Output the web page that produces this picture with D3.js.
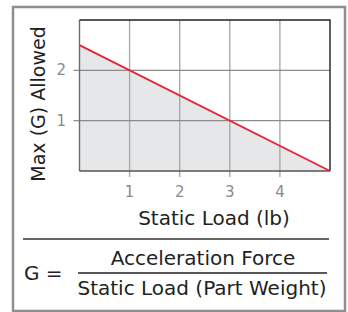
<!DOCTYPE html>
<html>
<head>
<meta charset="utf-8"/>
<script src="https://d3js.org/d3.v7.min.js"></script>
<style>
  body { margin: 0; background: #fff; }
  text { font-family: "DejaVu Sans", sans-serif; }
</style>
</head>
<body>
<div id="chart"></div>
<script>
// data
var loadLb = [0, 5];
var maxG = [2.5, 0];
var xTicks = [1, 2, 3, 4];
var yTicks = [1, 2];

var W = 348, H = 312;
var svg = d3.select("#chart").append("svg")
    .attr("width", W).attr("height", H);

// outer frame
svg.append("rect")
    .attr("x", 13).attr("y", 7).attr("width", 332).attr("height", 304)
    .attr("fill", "#fff").attr("stroke", "#8f8f8f").attr("stroke-width", 2.5);

var x = d3.scaleLinear().domain([0, 5]).range([79.5, 330]);
var y = d3.scaleLinear().domain([0, 3]).range([171, 20]);

var pts = loadLb.map(function(d, i) { return [d, maxG[i]]; });

// shaded area under the line
svg.append("path")
    .datum(pts)
    .attr("fill", "#e6e7e8")
    .attr("d", d3.area().x(function(d) { return x(d[0]); })
        .y0(y(0)).y1(function(d) { return y(d[1]); }));

// grid
svg.append("g").selectAll("line").data(xTicks).enter().append("line")
    .attr("x1", function(d) { return x(d); }).attr("x2", function(d) { return x(d); })
    .attr("y1", y(3)).attr("y2", y(0) + 6)
    .attr("stroke", "#ababab").attr("stroke-width", 1.4);

svg.append("g").selectAll("line").data(yTicks).enter().append("line")
    .attr("x1", x(0) - 6).attr("x2", x(5))
    .attr("y1", function(d) { return y(d); }).attr("y2", function(d) { return y(d); })
    .attr("stroke", "#8c8c8c").attr("stroke-width", 1.4);

// plot frame
svg.append("path")
    .attr("d", "M" + x(0) + "," + y(0) + "V" + y(3))
    .attr("stroke", "#6b6b6b").attr("stroke-width", 1.4).attr("fill", "none");
svg.append("path")
    .attr("d", "M" + x(0) + "," + y(0) + "H" + x(5))
    .attr("stroke", "#555").attr("stroke-width", 1.4).attr("fill", "none");
svg.append("path")
    .attr("d", "M" + x(0) + "," + y(3) + "H" + x(5) + "V" + y(0))
    .attr("stroke", "#231f20").attr("stroke-width", 1.4).attr("fill", "none");

// red line
svg.append("path")
    .datum(pts)
    .attr("fill", "none").attr("stroke", "#e8213a").attr("stroke-width", 1.8)
    .attr("d", d3.line().x(function(d) { return x(d[0]); }).y(function(d) { return y(d[1]); }));

// tick labels
svg.append("g").selectAll("text").data(xTicks).enter().append("text")
    .attr("x", function(d) { return x(d); }).attr("y", 197)
    .attr("text-anchor", "middle").attr("font-size", 15).attr("fill", "#8a8a8a")
    .text(function(d) { return d; });

svg.append("g").selectAll("text").data(yTicks).enter().append("text")
    .attr("x", 66).attr("y", function(d) { return y(d) + 5; })
    .attr("text-anchor", "end").attr("font-size", 15).attr("fill", "#8a8a8a")
    .text(function(d) { return d; });

// axis titles
svg.append("text")
    .attr("x", 214).attr("y", 225)
    .attr("text-anchor", "middle").attr("font-size", 20).attr("fill", "#231f20")
    .text("Static Load (lb)");

svg.append("text")
    .attr("transform", "translate(45,104) rotate(-90)")
    .attr("text-anchor", "middle").attr("font-size", 19).attr("fill", "#231f20")
    .text("Max (G) Allowed");

// divider
svg.append("line")
    .attr("x1", 23).attr("x2", 329).attr("y1", 239).attr("y2", 239)
    .attr("stroke", "#333").attr("stroke-width", 1.4);

// formula
svg.append("text")
    .attr("x", 24).attr("y", 280)
    .attr("font-size", 20).attr("fill", "#231f20")
    .text("G =");

svg.append("text")
    .attr("x", 203).attr("y", 265)
    .attr("text-anchor", "middle").attr("font-size", 20).attr("fill", "#231f20")
    .text("Acceleration Force");

svg.append("line")
    .attr("x1", 78).attr("x2", 327).attr("y1", 273).attr("y2", 273)
    .attr("stroke", "#231f20").attr("stroke-width", 1.6);

svg.append("text")
    .attr("x", 202).attr("y", 295)
    .attr("text-anchor", "middle").attr("font-size", 20).attr("fill", "#231f20")
    .text("Static Load (Part Weight)");
</script>
</body>
</html>
